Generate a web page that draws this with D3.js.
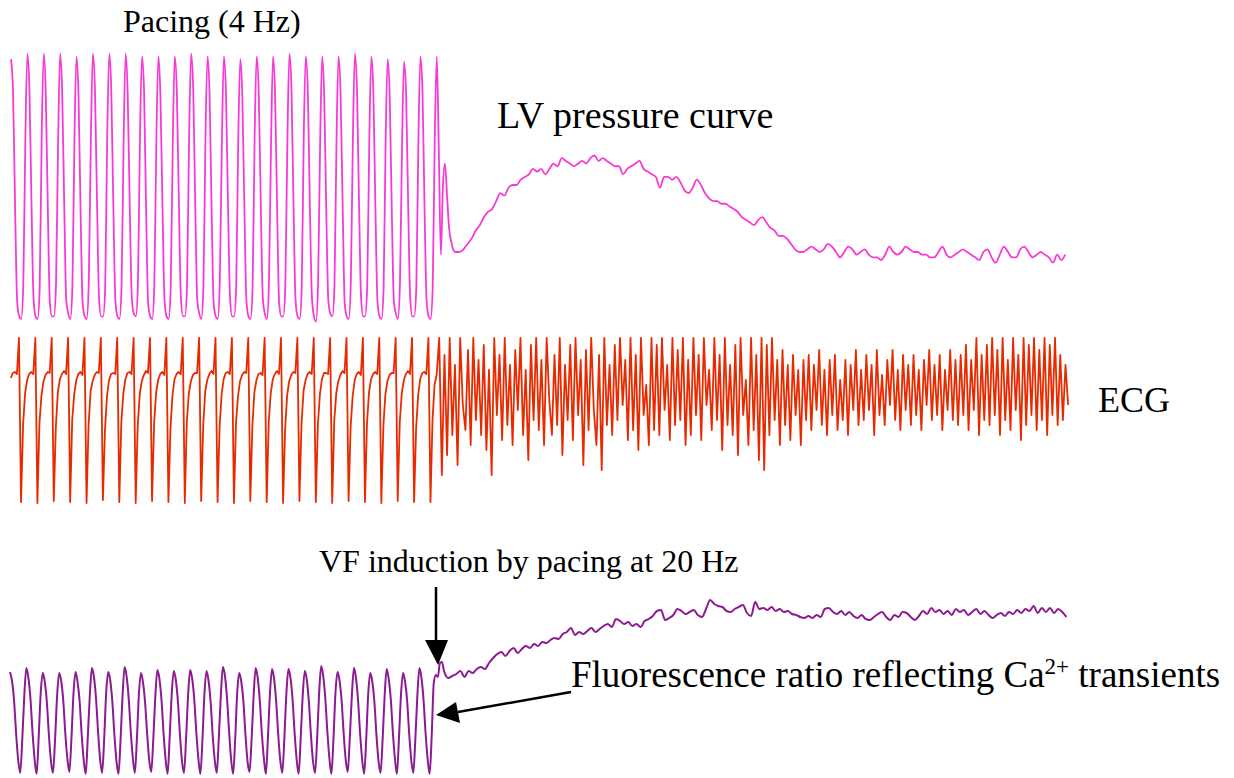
<!DOCTYPE html>
<html>
<head>
<meta charset="utf-8">
<script src="https://cdn.jsdelivr.net/npm/d3@7"></script>
<style>
  body { margin: 0; background: #fff; }
  svg { display: block; }
  text { font-family: "Liberation Serif", "Times New Roman", serif; fill: #000; }
</style>
</head>
<body>
<div id="chart"></div>
<script>
const width = 1234, height = 778;

// sampling: paced part at 8 samples per 250 ms beat, fibrillation part coarser
const fastStep = 1 / 32;
const lvStart = 0.015, ecgStart = 0.012, fluoStart = 0;
const lvFibStep = 1 / 16, ecgFibStep = 0.04, fluoFibStep = 1 / 16;
const totalTime = 16.15;

// LV pressure (mmHg), 27 paced beats then VF onset
const lvPaced = [
  97,85,42,7,1,0,12,66, 99,86,44,8,1,0,11,68, 99,84,41,6,1,1,13,65, 99,85,43,7,2,0,12,67,
  98,83,40,6,1,0,14,66, 99,86,45,8,1,1,11,68, 99,85,42,7,1,0,12,65, 99,84,43,8,2,1,13,67,
  98,85,41,6,1,0,12,66, 98,83,42,7,1,0,11,64, 98,85,44,8,1,1,13,67, 99,86,43,7,2,0,12,68,
  98,84,41,6,1,0,14,65, 98,85,43,8,1,1,12,66, 97,83,42,7,1,0,11,67, 98,85,44,8,2,0,13,64,
  98,84,41,6,1,1,12,66, 99,86,43,7,1,0,11,68, 98,85,42,8,1,-1,13,65, 98,83,41,7,2,1,12,66,
  98,84,43,6,1,0,14,67, 99,86,44,8,1,1,12,65, 98,85,42,7,1,0,11,66, 97,83,41,7,2,0,13,64,
  96,84,43,8,1,1,12,66, 98,85,42,7,1,0,12,67,
  98,62,24,50,58,46,34,29,26,25
];
const lvFib = [
  25,26,28,30,33,35,38,40,41,
  44,47,46,49,50,50,52,53,54,56, 55,56,54,56,58,57,60,59,58,57,
  58,59,58,60,61,59,60,59,58,57, 57,54,56,57,58,59,56,55,54,53,
  49,53,53,52,53,51,48,47,49,52, 50,47,45,44,44,43,43,42,41,40,
  38,37,36,35,37,38,36,34,33,31, 31,30,28,26,25,25,26,27,26,25,
  26,28,27,25,23,25,27,26,24,25, 26,24,23,23,22,24,27,25,24,25,
  27,26,25,25,24,24,23,23,25,27, 24,23,24,25,26,25,24,23,22,25,
  26,23,21,24,27,25,23,23,26,27, 25,23,24,25,24,23,21,24,22,24
];

// ECG (a.u.), 26 paced complexes then ventricular fibrillation
const ecgPaced = [
  -3,2,3,1,
  37,-127,-50,-18,-5,1,3,1, 37,-128,-48,-20,-6,0,3,2, 37,-126,-52,-17,-4,1,4,1,
  37,-127,-45,-19,-5,1,3,0, 37,-128,-50,-16,-6,0,3,2, 37,-125,-55,-21,-5,1,2,1,
  37,-127,-47,-18,-4,2,3,1, 37,-128,-51,-19,-6,0,4,2, 37,-126,-49,-17,-5,1,3,0,
  37,-127,-53,-20,-4,1,3,1, 37,-128,-46,-18,-6,0,2,2, 37,-126,-50,-16,-5,1,4,1,
  37,-127,-52,-19,-4,2,3,1, 37,-128,-48,-21,-6,0,3,2, 37,-126,-51,-17,-5,1,2,0,
  37,-127,-47,-18,-4,1,4,1, 37,-128,-54,-20,-6,0,3,2, 37,-126,-49,-16,-5,1,3,1,
  37,-127,-50,-19,-4,2,2,1, 37,-128,-46,-18,-6,0,4,2, 37,-126,-52,-21,-5,1,3,0,
  37,-127,-48,-17,-4,1,3,1, 37,-128,-51,-19,-6,0,2,2, 37,-126,-47,-18,-5,1,4,1,
  37,-127,-53,-20,-4,2,3,1,
  37,-127,-45,-10,0
];
const ecgFib = [
  37,-100,20,-80,37,-60,10,-90,37,-30, -55,25,-70,37,-45,15,-60,30,-75,5,
  -100,37,-40,20,-65,37,-50,10,-70,25, -35,37,-60,5,-85,30,-45,37,-55,15,
  -70,37,-25,-60,20,-50,37,-80,10,-45, 30,-65,37,-40,15,-90,25,-55,37,-35,
  -70,20,-95,37,-50,10,-60,30,-45,37, -30,15,-65,37,-55,20,-75,37,-40,-10,
  -70,37,-55,30,-60,37,-35,10,-65,37, -50,25,-45,37,-70,15,-60,37,-40,20,
  -65,37,-30,5,-55,37,-45,20,-75,37, -50,10,-60,30,-80,37,-40,-5,-70,37,
  -55,20,-85,37,-95,30,-60,37,-45,15, -70,25,-50,10,-65,20,-40,5,-70,15,
  -45,20,-55,10,-35,25,-50,5,-60,15, -40,20,-55,-5,-45,15,-60,10,-35,25,
  -50,5,-45,20,-35,10,-60,25,-40,0, -50,15,-30,25,-45,5,-55,20,-35,10,
  -50,20,-40,5,-55,15,-30,25,-45,10, -40,20,-55,5,-35,25,-45,15,-50,20,
  -40,30,-55,15,-35,37,-60,20,-45,30, -50,37,-40,25,-60,37,-45,15,-55,37,
  -35,20,-65,37,-50,30,-40,37,-55,25, -45,37,-60,30,-40,37,-50,20,-45,10,
  -30
];

// Fluorescence ratio (a.u.), Ca2+ transients then VF
const fluoPaced = [
  103,94,74,41,15,2,36,80, 107,97,76,43,16,1,37,82, 102,93,73,40,14,2,35,79, 102,94,75,42,17,3,36,81,
  103,93,74,41,15,1,38,80, 107,98,77,44,16,2,36,83, 103,94,73,40,14,1,35,80, 108,98,76,43,17,2,37,82,
  102,92,72,41,15,3,36,79, 105,96,75,42,16,1,38,81, 104,95,74,41,14,2,36,80, 105,96,76,43,17,1,35,82,
  104,94,73,40,15,2,37,80, 108,99,77,44,16,1,36,83, 102,93,74,41,14,3,35,79, 107,97,75,42,17,1,38,82,
  106,96,74,41,15,2,36,81, 106,97,76,43,16,1,37,80, 104,95,73,40,14,2,35,82, 109,99,77,44,17,1,36,83,
  103,94,74,41,15,3,38,80, 107,97,75,42,16,1,36,82, 102,93,73,40,14,2,35,79, 106,96,76,43,17,1,37,81,
  102,93,74,41,15,2,36,80, 107,97,75,42,16,1,40,92,
  100,98,112,113,104,99,97
];
const fluoFib = [
  99,101,104,98,104,102,106,108,106,
  112,117,121,123,119,124,127,122,126,129, 127,131,129,133,132,135,137,136,141,143,
  147,140,143,141,144,147,143,146,149,151, 148,156,154,151,153,149,151,148,154,156,
  159,164,165,155,157,160,166,164,161,163, 165,160,158,166,175,171,169,168,164,163,
  166,168,170,162,159,173,166,167,165,168, 164,166,163,164,161,160,158,157,159,157,
  160,158,166,167,163,161,164,160,163,159, 157,160,156,155,158,161,163,158,155,160,
  158,163,162,158,155,159,164,161,167,163, 165,161,164,160,166,163,165,160,163,166,
  161,164,160,157,160,162,159,163,161,165, 162,166,164,169,162,167,163,167,162,166,
  163,158
];

function toSeries(paced, t0, fib, fibStep) {
  const pts = paced.map((v, i) => [t0 + i * fastStep, v]);
  const tEnd = pts[pts.length - 1][0];
  fib.forEach((v, i) => pts.push([tEnd + (i + 1) * fibStep, v]));
  return pts;
}

const svg = d3.select('#chart')
  .append('svg')
  .attr('width', width)
  .attr('height', height);

const x = d3.scaleLinear().domain([0, totalTime]).range([10, 1068]);
const yLV = d3.scaleLinear().domain([0, 100]).range([319, 51]);
const yECG = d3.scaleLinear().domain([-130, 40]).range([505, 335]);
const yFluo = d3.scaleLinear().domain([0, 180]).range([775, 595]);

const traces = [
  { data: toSeries(lvPaced, lvStart, lvFib, lvFibStep), y: yLV, color: '#f83ad4', w: 1.8, curve: d3.curveMonotoneX },
  { data: toSeries(ecgPaced, ecgStart, ecgFib, ecgFibStep), y: yECG, color: '#e82a00', w: 1.8, curve: d3.curveLinear },
  { data: toSeries(fluoPaced, fluoStart, fluoFib, fluoFibStep), y: yFluo, color: '#8c1a91', w: 2, curve: d3.curveMonotoneX }
];

traces.forEach(tr => {
  const line = d3.line()
    .x(d => x(d[0]))
    .y(d => tr.y(d[1]))
    .curve(tr.curve);
  svg.append('path')
    .datum(tr.data)
    .attr('d', line)
    .attr('fill', 'none')
    .attr('stroke', tr.color)
    .attr('stroke-width', tr.w)
    .attr('stroke-linejoin', 'round');
});

// labels
svg.append('text').attr('x', 123).attr('y', 32).style('font-size', '32px').text('Pacing (4 Hz)');
svg.append('text').attr('x', 497).attr('y', 128).style('font-size', '38px').text('LV pressure curve');
svg.append('text').attr('x', 1098).attr('y', 412).style('font-size', '36px').text('ECG');
svg.append('text').attr('x', 319).attr('y', 572).style('font-size', '32px').text('VF induction by pacing at 20 Hz');

const fl = svg.append('text').attr('x', 571).attr('y', 687).style('font-size', '37px');
fl.append('tspan').text('Fluorescence ratio reflecting Ca');
fl.append('tspan').attr('dy', -13).style('font-size', '23px').text('2+');
fl.append('tspan').attr('dy', 13).text(' transients');

// arrows
const arrows = svg.append('g').attr('fill', '#000').attr('stroke', '#000');
arrows.append('line').attr('x1', 436).attr('y1', 587).attr('x2', 436).attr('y2', 642).attr('stroke-width', 2.5);
arrows.append('polygon').attr('points', '425,640 448,640 438,665').attr('stroke', 'none');
arrows.append('line').attr('x1', 571).attr('y1', 692).attr('x2', 458).attr('y2', 712).attr('stroke-width', 2.5);
arrows.append('polygon').attr('points', '456,702 460,723 436,715').attr('stroke', 'none');
</script>
</body>
</html>
